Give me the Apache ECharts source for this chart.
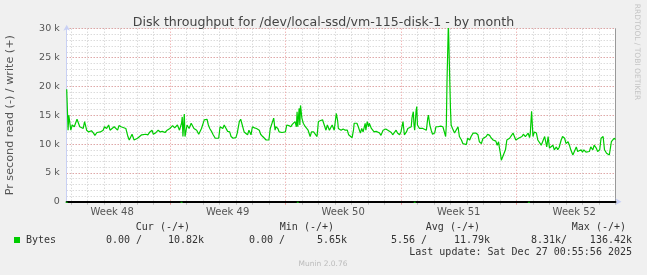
<!DOCTYPE html>
<html>
<head>
<meta charset="utf-8">
<script src="https://cdn.jsdelivr.net/npm/echarts@6/dist/echarts.min.js"></script>
<style>
html,body{margin:0;padding:0;background:#F0F0F0;}
#c{width:647px;height:275px;}
</style>
</head>
<body>
<div id="c"></div>
<script>
// ---- data (hours since left edge of the plot, values in k bytes/s) ----
const TOTAL_HOURS = 798;
const weekBoundaryHours = [150, 318, 486, 654];
const weekLabelHours = [66, 234, 402, 570, 738];
const weekLabels = ['Week 48', 'Week 49', 'Week 50', 'Week 51', 'Week 52'];
const yTickLabels = ['0', '5 k', '10 k', '15 k', '20 k', '25 k', '30 k'];

const writeHours = [0,2,3,5,6,7,8,11,15,16,19,21,24,26,29,32,36,39,41,44,46,49,53,55,58,61,63,65,69,71,74,76,79,81,86,89,91,93,95,98,100,103,105,109,111,115,118,121,124,126,129,133,136,139,143,146,150,154,157,161,164,167,168,169,171,172,175,178,181,185,189,192,194,196,200,204,206,208,211,213,216,218,221,223,224,227,229,231,234,237,239,242,246,248,251,253,255,258,260,263,265,268,270,273,276,280,282,285,287,290,292,294,296,298,301,303,304,307,309,313,315,318,320,323,326,328,330,332,334,335,336,338,339,340,342,344,347,349,351,354,356,359,361,364,366,368,372,374,377,379,382,384,386,389,392,394,395,399,402,405,408,410,412,415,417,418,422,424,427,429,431,434,435,437,439,440,443,445,447,450,452,455,457,460,462,464,467,469,472,474,476,479,481,484,486,489,491,494,496,498,501,502,504,505,506,508,509,510,513,515,518,520,523,525,526,528,530,532,535,537,540,542,544,547,549,551,552,553,555,557,558,559,561,564,566,569,571,574,576,578,581,583,586,588,591,593,595,598,600,603,605,607,610,612,615,617,620,622,624,626,628,629,631,632,634,636,638,640,642,644,646,649,651,653,655,657,659,662,664,667,669,671,673,674,676,677,678,680,683,685,687,690,692,695,696,698,700,702,704,707,709,712,714,716,719,721,724,726,729,731,733,736,738,741,743,745,748,750,752,755,757,760,762,765,767,770,772,775,777,780,782,785,787,789,792,794,796,798];
const writeK = [19.5,12.4,15.0,14.8,12.4,12.7,13.3,13.0,14.3,14.2,13.0,13.3,12.7,13.9,12.4,12.1,12.3,11.9,11.5,12.0,11.7,12.1,12.4,13.0,12.7,13.3,12.4,12.7,13.0,13.3,12.4,13.2,13.0,13.3,12.7,11.3,10.7,11.0,11.7,10.7,10.4,11.0,11.3,11.6,11.3,11.7,11.6,12.1,12.4,11.7,11.9,12.4,12.1,12.2,12.0,12.4,12.7,13.2,12.8,13.3,12.4,13.6,14.7,11.3,15.2,11.3,13.3,12.7,13.6,12.7,12.4,11.7,11.7,12.7,14.2,14.3,13.3,12.7,12.1,11.6,11.0,10.7,11.0,13.0,13.3,12.7,13.3,13.6,12.2,12.1,11.3,11.0,11.1,11.9,13.9,14.3,14.2,12.1,12.1,11.6,12.4,11.6,13.0,12.8,12.7,12.4,11.7,11.3,11.3,10.7,10.5,10.7,12.7,12.4,14.5,12.4,13.0,12.7,12.1,12.0,12.2,12.1,13.3,13.2,13.0,13.4,13.3,13.9,13.0,15.6,13.0,16.2,13.3,16.7,14.5,13.6,13.0,13.3,12.4,11.3,12.1,12.1,11.9,11.3,13.9,14.2,14.2,13.9,12.4,13.3,12.4,12.1,13.3,12.4,15.3,14.0,12.7,12.4,12.6,12.4,12.4,11.6,11.3,11.1,12.4,13.6,13.6,13.0,11.9,12.7,12.1,13.6,12.4,13.9,13.0,13.6,12.7,12.4,12.1,12.2,12.4,11.9,11.5,12.4,12.7,12.6,12.4,12.7,12.0,11.6,11.9,12.4,11.9,11.6,12.1,13.9,11.6,12.1,12.7,12.4,13.0,14.5,15.6,13.3,12.4,15.7,16.5,13.3,12.7,12.4,12.7,13.0,12.4,14.5,15.0,13.3,12.4,11.7,11.9,13.0,13.0,13.0,13.1,13.0,12.7,11.3,13.3,20.8,31,31,16.2,13.3,12.7,11.9,12.1,13.0,11.3,10.7,10.1,9.8,9.9,11.0,10.7,11.3,11.9,11.7,11.9,11.6,10.4,10.1,10.9,11.1,11.3,11.7,11.5,11.1,10.7,10.4,10.5,9.8,10.4,9.5,8.1,7.2,7.8,8.1,9.0,10.7,10.4,11.0,10.9,11.9,11.9,10.7,10.7,11.0,10.7,11.3,11.7,11.3,11.6,11.9,11.1,11.7,15.7,15.7,11.3,12.1,11.9,10.7,10.4,9.8,9.5,11.3,10.7,9.5,11.3,9.3,9.0,9.8,9.0,9.5,9.0,9.4,10.7,11.3,11.0,10.1,10.4,9.8,9.0,8.1,8.4,9.5,8.7,8.7,9.0,8.6,9.0,8.6,8.7,8.7,9.5,9.0,9.8,9.3,8.7,9.0,11.0,11.3,9.0,8.4,8.1,8.1,10.4,10.1,11.0,10.8];

// read (negative side) short bursts, clipped below the zero line
const readHours = [0, 1, null, 167, 168, null, 336, 337, null, 506, 507, null, 672, 673];
const readK = [0, -8.3, null, 0, -5.0, null, 0, -5.0, null, 0, -5.0, null, 0, -5.0];

const legendHeaders = ['Cur (-/+)', 'Min (-/+)', 'Avg (-/+)', 'Max (-/+)'];
const legendStats = ['0.00 /', '10.82k', '0.00 /', '5.65k', '5.56 /', '11.79k', '8.31k/', '136.42k'];
const seriesName = 'Bytes';
const lastUpdate = 'Last update: Sat Dec 27 00:55:56 2025';

// ---- build ----
const hourSlots = Array.from({length: TOTAL_HOURS + 1}, (_, i) => String(i));
const writeData = writeHours.map((h, i) => [h, writeK[i]]);
const readData = readHours.map((h, i) => h === null ? '-' : [h, readK[i]]);

const isDay = i => i % 24 === 6 && weekBoundaryHours.indexOf(i) < 0;
const isWeek = i => weekBoundaryHours.indexOf(i) >= 0;

const chart = echarts.init(document.getElementById('c'), null, {renderer: 'canvas'});
const mono = '10px "DejaVu Sans Mono"';
const txtCol = '#333';

const headerRights = [190, 334, 480, 626];
const statRights = [142, 204, 285, 347, 427, 490, 567, 632];

const graphics = [];
legendHeaders.forEach((t, i) => graphics.push({type: 'text', style: {text: t, x: headerRights[i], y: 227, font: mono, fill: txtCol, align: 'right', verticalAlign: 'middle'}}));
legendStats.forEach((t, i) => graphics.push({type: 'text', style: {text: t, x: statRights[i], y: 240, font: mono, fill: txtCol, align: 'right', verticalAlign: 'middle'}}));
graphics.push({type: 'rect', shape: {x: 14, y: 237, width: 6, height: 6}, style: {fill: '#00CC00'}});
graphics.push({type: 'text', style: {text: seriesName, x: 26, y: 240, font: mono, fill: txtCol, align: 'left', verticalAlign: 'middle'}});
graphics.push({type: 'text', style: {text: lastUpdate, x: 632, y: 252, font: mono, fill: txtCol, align: 'right', verticalAlign: 'middle'}});
graphics.push({type: 'text', style: {text: 'Munin 2.0.76', x: 323, y: 264, font: '7.5px "DejaVu Sans"', fill: '#BBBBBB', align: 'center', verticalAlign: 'middle'}});
graphics.push({type: 'text', x: 637, y: 52, rotation: -Math.PI / 2, style: {text: 'RRDTOOL / TOBI OETIKER', x: 0, y: 0, font: '7.5px "DejaVu Sans"', fill: '#C4C4C4', align: 'center', verticalAlign: 'middle'}});

const minorCol = 'rgba(190,190,190,0.8)';
const majorCol = 'rgba(230,120,120,0.75)';
const axisBlue = '#C8D0F4';

chart.setOption({
  animation: false,
  backgroundColor: '#F0F0F0',
  title: {
    text: 'Disk throughput for /dev/local-ssd/vm-115-disk-1 - by month',
    left: 'center', top: 11,
    textStyle: {fontFamily: 'DejaVu Sans', fontSize: 12.6, fontWeight: 'normal', color: '#444'}
  },
  grid: {left: 66.7, top: 28.7, width: 548.8, height: 173, show: true, backgroundColor: '#FFFFFF', borderWidth: 0, outerBoundsMode: 'none', containLabel: false},
  graphic: graphics,
  xAxis: [
    {
      type: 'category', data: hourSlots, boundaryGap: false, position: 'bottom', z: 0,
      axisLine: {show: true, onZero: false, lineStyle: {color: axisBlue, width: 1}, symbol: ['none', 'arrow'], symbolSize: [5, 6], symbolOffset: [0, 6]},
      axisTick: {show: true, interval: isDay, length: 3, lineStyle: {color: '#BBBBBB'}},
      axisLabel: {
        show: true, interval: i => weekLabelHours.indexOf(i) >= 0,
        formatter: v => { const k = weekLabelHours.indexOf(Number(v)); return k >= 0 ? weekLabels[k] : ''; },
        fontFamily: 'DejaVu Sans', fontSize: 10, color: '#555', margin: 6
      },
      splitLine: {show: true, interval: isDay, lineStyle: {color: minorCol, type: [1, 2], width: 1}}
    },
    {
      type: 'category', data: hourSlots, boundaryGap: false, position: 'bottom', z: 1,
      axisLine: {show: false},
      axisTick: {show: true, interval: isWeek, length: 3, lineStyle: {color: majorCol}},
      axisLabel: {show: false},
      splitLine: {show: true, interval: isWeek, lineStyle: {color: majorCol, type: [1, 2], width: 1}}
    },
    {
      type: 'category', data: hourSlots, boundaryGap: false, position: 'bottom', z: 4,
      axisLine: {show: true, onZero: false, lineStyle: {color: '#000000', width: 2}},
      axisTick: {show: false}, axisLabel: {show: false}, splitLine: {show: false}
    },
    {type: 'value', min: 0, max: TOTAL_HOURS, show: false}
  ],
  yAxis: [
    {
      type: 'value', min: 0, max: 30, interval: 1, position: 'left',
      axisLine: {show: false}, axisTick: {show: false}, axisLabel: {show: false},
      splitLine: {show: true, lineStyle: {color: minorCol, type: [1, 2], width: 1}}
    },
    {
      type: 'value', min: 0, max: 30, interval: 5, position: 'left',
      name: 'Pr second read (-) / write (+)', nameLocation: 'middle', nameRotate: 90, nameGap: 51,
      nameTextStyle: {fontFamily: 'DejaVu Sans', fontSize: 11.2, color: '#555'},
      axisLine: {show: true, onZero: false, lineStyle: {color: axisBlue, width: 1}, symbol: ['none', 'arrow'], symbolSize: [5, 6], symbolOffset: [0, 4]},
      axisTick: {show: false},
      axisLabel: {formatter: v => yTickLabels[v / 5], fontFamily: 'DejaVu Sans', fontSize: 9.5, color: '#555', margin: 7},
      splitLine: {show: true, lineStyle: {color: majorCol, type: [1, 2], width: 1}}
    },
    {
      type: 'value', min: 0, max: 30, position: 'right',
      axisLine: {show: true, onZero: false, lineStyle: {color: '#999999', width: 1}},
      axisTick: {show: false}, axisLabel: {show: false}, splitLine: {show: false}
    }
  ],
  series: [
    {
      name: 'write', type: 'line', xAxisIndex: 3, yAxisIndex: 1, data: writeData,
      showSymbol: false, symbol: 'none', clip: true,
      lineStyle: {color: '#00CC00', width: 1.2}, z: 5
    },
    {
      name: 'read', type: 'line', xAxisIndex: 3, yAxisIndex: 1, data: readData,
      showSymbol: false, symbol: 'none', clip: true, connectNulls: false,
      lineStyle: {color: '#00CC00', width: 2}, z: 6
    }
  ]
});
</script>
</body>
</html>
